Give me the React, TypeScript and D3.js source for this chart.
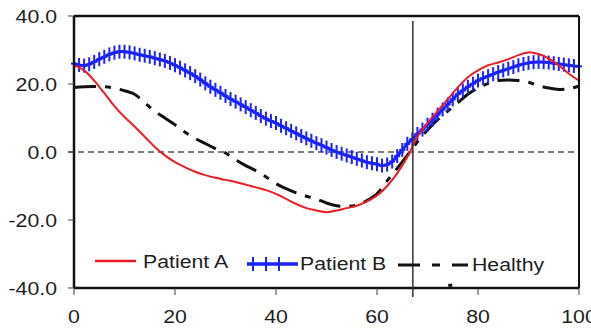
import React from "react";
import * as d3 from "d3";

const xTicks = [0, 20, 40, 60, 80, 100];
const yTicks = [40, 20, 0, -20, -40];
const yTickLabels = ["40.0", "20.0", "0.0", "-20.0", "-40.0"];

const seriesNames = ["Patient A", "Patient B", "Healthy"];

// Patient A, x = 0,2,...,100
const patientAX = d3.range(0, 101, 2);
const patientA = [25.5, 24, 21, 17.3, 13.5, 10.3, 7.5, 4.5, 1.5, -1, -3, -4.5, -5.8, -6.8, -7.6, -8.2, -8.8, -9.6, -10.4, -11.2, -12.3, -13.8, -15.3, -16.5, -17.2, -17.7, -17.2, -16.5, -15.8, -14.5, -12.8, -10, -6.3, -1.5, 4.5, 8.5, 12, 15.5, 19, 22, 24, 25.5, 26.3, 27.3, 28.5, 29.3, 28.8, 27.5, 25.5, 23, 21];

// Patient B, x = 0,1,...,100
const patientBX = d3.range(0, 101, 1);
const patientB = [26, 25.6, 25.4, 25.8, 26.5, 27.3, 28, 28.7, 29.2, 29.5, 29.5, 29.3, 29, 28.6, 28.3, 28, 27.6, 27.2, 26.8, 26.2, 25.5, 24.8, 24, 23.2, 22.3, 21.3, 20.2, 19.2, 18.3, 17.4, 16.5, 15.6, 14.8, 14, 13.2, 12.3, 11.5, 10.6, 9.8, 9.1, 8.5, 7.7, 7, 6.2, 5.5, 4.7, 4, 3.3, 2.6, 2, 1.3, 0.6, 0, -0.5, -1, -1.5, -2, -2.5, -3, -3.3, -3.6, -4, -3.7, -2.8, -1.2, 0.6, 2.4, 3.8, 5.3, 6.6, 8, 9.5, 11, 12.5, 14, 15.5, 17, 18.1, 19.2, 20.1, 21, 21.7, 22.3, 22.9, 23.5, 24, 24.5, 25, 25.5, 25.9, 26.2, 26.4, 26.5, 26.4, 26.3, 26.1, 25.9, 25.7, 25.5, 25.3, 25.2];

// Healthy, x = 0,2,...,100
const healthyX = d3.range(0, 101, 2);
const healthy = [19, 19.2, 19.3, 19.2, 18.8, 18, 17, 14.5, 12, 10, 8, 5.8, 4, 2.5, 1, -0.3, -2.3, -4, -5.5, -7.3, -9.3, -10.8, -12, -13, -13.8, -15, -15.8, -16, -15.6, -14.3, -12.3, -8.5, -4.8, -1, 3, 6.5, 9.5, 12, 14.5, 17, 18.8, 20.2, 21, 21.2, 21, 20.5, 19.5, 18.8, 18.4, 18.6, 19.4];

const markerLineX = [67.1];
const strayMark = [{ x: 74.5, y: -39.2 }];

const W = 591;
const H = 329;
const FONT = "'Liberation Sans', Arial, sans-serif";
const TEXT_COLOR = "#1e1e1e";
const SX = 1.15;
const FS = 18.5;

export default function App() {
  const x = d3.scaleLinear().domain([0, 100]).range([74, 579]);
  const y = d3.scaleLinear().domain([-40, 40]).range([288, 16]);

  const line = d3
    .line<[number, number]>()
    .x((d) => x(d[0]))
    .y((d) => y(d[1]))
    .curve(d3.curveCatmullRom.alpha(0.5));

  const aPts = patientAX.map((v, i) => [v, patientA[i]] as [number, number]);
  const bPts = patientBX.map((v, i) => [v, patientB[i]] as [number, number]);
  const hPts = healthyX.map((v, i) => [v, healthy[i]] as [number, number]);

  const blue = "#1a22ff";
  const red = "#ee1c24";

  const cross = (cx: number, cy: number, key: string | number, hv = 7, hh = 3) => (
    <g key={key} stroke={blue} strokeWidth={2}>
      <line x1={cx} x2={cx} y1={cy - hv} y2={cy + hv} />
      <line x1={cx - hh} x2={cx + hh} y1={cy} y2={cy} />
    </g>
  );

  return (
    <svg
      width={W}
      height={H}
      style={{ position: "fixed", left: 0, top: 0, background: "#fff" }}
    >
      <rect x={0} y={0} width={W} height={H} fill="#fff" />
      <line
        x1={68}
        x2={x(100)}
        y1={y(0)}
        y2={y(0)}
        stroke="#555"
        strokeWidth={1.5}
        strokeDasharray="6,4"
      />
      <path
        d={line(hPts) || ""}
        fill="none"
        stroke="#111"
        strokeWidth={3}
        strokeDasharray="22,9,6,9"
      />
      <path d={line(bPts) || ""} fill="none" stroke={blue} strokeWidth={3} />
      {bPts.map((p, i) => cross(x(p[0]), y(p[1]), i))}
      <path d={line(aPts) || ""} fill="none" stroke={red} strokeWidth={2} />

      <line x1={x(0)} x2={x(100)} y1={y(40)} y2={y(40)} stroke="#111" strokeWidth={2.5} />
      <line x1={x(100)} x2={x(100)} y1={y(40)} y2={y(-40)} stroke="#111" strokeWidth={2} />
      <line x1={x(0)} x2={x(100)} y1={y(-40)} y2={y(-40)} stroke="#111" strokeWidth={2.5} />
      <line x1={x(0)} x2={x(0)} y1={y(40)} y2={y(-40)} stroke="#111" strokeWidth={2.5} />

      {markerLineX.map((v, i) => (
        <line key={i} x1={x(v)} x2={x(v)} y1={21} y2={297} stroke="#333" strokeWidth={1.5} />
      ))}
      {strayMark.map((p, i) => (
        <rect key={i} x={x(p.x) - 2} y={y(p.y) - 1.5} width={4} height={3} fill="#111" />
      ))}

      {yTicks.map((t, i) => (
        <g key={t}>
          <line x1={68} x2={74} y1={y(t)} y2={y(t)} stroke="#444" strokeWidth={1} />
          <text
            transform={`translate(57,${y(t) + 7}) scale(${SX},1)`}
            textAnchor="end"
            fontFamily={FONT}
            fontSize={FS}
            fill={TEXT_COLOR}
          >
            {yTickLabels[i]}
          </text>
        </g>
      ))}
      {xTicks.map((t) => (
        <g key={t}>
          <line x1={x(t)} x2={x(t)} y1={288} y2={295} stroke="#444" strokeWidth={1} />
          <text
            transform={`translate(${x(t)},323) scale(${SX},1)`}
            textAnchor="middle"
            fontFamily={FONT}
            fontSize={FS}
            fill={TEXT_COLOR}
          >
            {t}
          </text>
        </g>
      ))}

      <line x1={95} x2={136} y1={261} y2={261} stroke={red} strokeWidth={2.5} />
      <text transform={`translate(143,268) scale(${SX},1)`} fontFamily={FONT} fontSize={FS} fill={TEXT_COLOR}>
        {seriesNames[0]}
      </text>
      <line x1={247} x2={298} y1={264} y2={264} stroke={blue} strokeWidth={3.5} />
      {[253, 266, 279].map((cx, i) => cross(cx, 264, "l" + i, 7, 2))}
      <text transform={`translate(300,270) scale(${SX},1)`} fontFamily={FONT} fontSize={FS} fill={TEXT_COLOR}>
        {seriesNames[1]}
      </text>
      <line
        x1={398}
        x2={468}
        y1={265}
        y2={265}
        stroke="#111"
        strokeWidth={3}
        strokeDasharray="22,12,8,12"
      />
      <text transform={`translate(472,271) scale(${SX},1)`} fontFamily={FONT} fontSize={FS} fill={TEXT_COLOR}>
        {seriesNames[2]}
      </text>
    </svg>
  );
}
